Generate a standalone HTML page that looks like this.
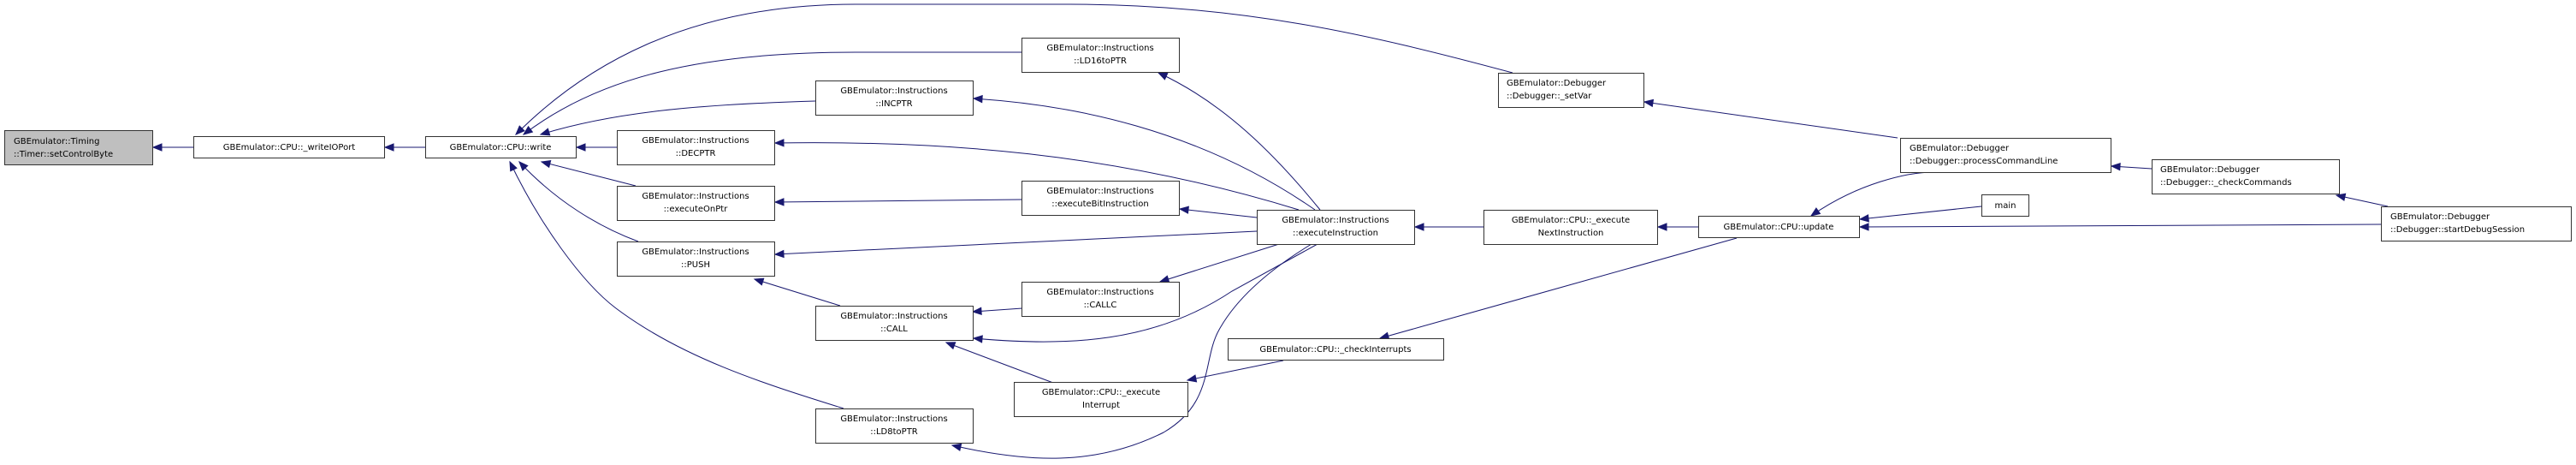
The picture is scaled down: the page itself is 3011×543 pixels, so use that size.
<!DOCTYPE html>
<html><head><meta charset="utf-8"><style>
html,body{margin:0;padding:0;background:#fff;}
svg{display:block;}
text{font-family:"DejaVu Sans","Liberation Sans",sans-serif;font-size:10px;fill:#000;}
.b{fill:#fff;stroke:#333;stroke-width:1;}
.e{fill:none;stroke:#191970;stroke-width:1;}
</style></head><body>
<svg width="3011" height="543" viewBox="0 0 3011 543" xmlns="http://www.w3.org/2000/svg">
<defs>
<marker id="a" markerWidth="11" markerHeight="9" refX="10" refY="4" orient="auto-start-reverse" markerUnits="userSpaceOnUse" overflow="visible">
<path d="M0,0 L10,4 L0,8 Z" fill="#191970" stroke="#191970"/>
</marker>
</defs>
<g class="edges">
<path class="e" marker-start="url(#a)" d="M179,172 L226,172"/>
<path class="e" marker-start="url(#a)" d="M450,172 L497,172"/>
<path class="e" marker-start="url(#a)" d="M674,172 L721,172"/>
<path class="e" marker-start="url(#a)" d="M612,157 C700,90 820,61 1000,61 L1194,61"/>
<path class="e" marker-start="url(#a)" d="M632,157 C720,130 820,122 953,118"/>
<path class="e" marker-start="url(#a)" d="M603,157 C680,80 800,5 1000,5 L1250,5 C1450,5 1600,40 1768,85"/>
<path class="e" marker-start="url(#a)" d="M633,189 L743,217"/>
<path class="e" marker-start="url(#a)" d="M607,189 C650,235 700,265 746,282"/>
<path class="e" marker-start="url(#a)" d="M596,189 C630,260 680,330 720,360 C800,420 900,450 986,477"/>
<path class="e" marker-start="url(#a)" d="M906,236 L1194,233"/>
<path class="e" marker-start="url(#a)" d="M1354,85 C1430,120 1490,180 1543,245"/>
<path class="e" marker-start="url(#a)" d="M1138,115 C1250,122 1400,150 1537,245"/>
<path class="e" marker-start="url(#a)" d="M906,167 C1100,164 1300,178 1518,245"/>
<path class="e" marker-start="url(#a)" d="M1379,244 L1469,254"/>
<path class="e" marker-start="url(#a)" d="M906,297 L1469,270"/>
<path class="e" marker-start="url(#a)" d="M1356,329 L1495,285"/>
<path class="e" marker-start="url(#a)" d="M1138,395 C1250,405 1350,400 1440,340 L1540,285"/>
<path class="e" marker-start="url(#a)" d="M1113,520 C1200,540 1280,545 1360,505 C1420,470 1405,420 1425,385 C1450,340 1500,305 1533,285"/>
<path class="e" marker-start="url(#a)" d="M1137,364 L1195,360"/>
<path class="e" marker-start="url(#a)" d="M882,326 L982,357"/>
<path class="e" marker-start="url(#a)" d="M1106,400 L1231,447"/>
<path class="e" marker-start="url(#a)" d="M1388,444 L1500,421"/>
<path class="e" marker-start="url(#a)" d="M1654,265 L1734,265"/>
<path class="e" marker-start="url(#a)" d="M1938,265 L1985,265"/>
<path class="e" marker-start="url(#a)" d="M1613,395 L2030,278"/>
<path class="e" marker-start="url(#a)" d="M2117,252 C2170,215 2230,200 2264,201"/>
<path class="e" marker-start="url(#a)" d="M2174,256 L2316,241"/>
<path class="e" marker-start="url(#a)" d="M2174,265 L2783,262"/>
<path class="e" marker-start="url(#a)" d="M1922,119 L2218,161"/>
<path class="e" marker-start="url(#a)" d="M2468,194 L2515,197"/>
<path class="e" marker-start="url(#a)" d="M2731,228 L2791,241"/>
</g>
<g class="nodes">
<rect x="5.5" y="152.5" width="173" height="40" fill="#bfbfbf" stroke="#333"/>
<text x="16" y="168">GBEmulator::Timing</text><text x="16" y="183">::Timer::setControlByte</text>

<rect class="b" x="226.5" y="159.5" width="223" height="25"/>
<text x="338" y="175" text-anchor="middle">GBEmulator::CPU::_writeIOPort</text>

<rect class="b" x="497.5" y="159.5" width="176" height="25"/>
<text x="585" y="175" text-anchor="middle">GBEmulator::CPU::write</text>

<rect class="b" x="1194.5" y="44.5" width="184" height="40"/>
<text x="1286" y="59" text-anchor="middle">GBEmulator::Instructions</text><text x="1286" y="74" text-anchor="middle">::LD16toPTR</text>

<rect class="b" x="953.5" y="94.5" width="184" height="40"/>
<text x="1045" y="109" text-anchor="middle">GBEmulator::Instructions</text><text x="1045" y="124" text-anchor="middle">::INCPTR</text>

<rect class="b" x="721.5" y="152.5" width="184" height="40"/>
<text x="813" y="167" text-anchor="middle">GBEmulator::Instructions</text><text x="813" y="182" text-anchor="middle">::DECPTR</text>

<rect class="b" x="721.5" y="217.5" width="184" height="40"/>
<text x="813" y="232" text-anchor="middle">GBEmulator::Instructions</text><text x="813" y="247" text-anchor="middle">::executeOnPtr</text>

<rect class="b" x="721.5" y="282.5" width="184" height="40"/>
<text x="813" y="297" text-anchor="middle">GBEmulator::Instructions</text><text x="813" y="312" text-anchor="middle">::PUSH</text>

<rect class="b" x="953.5" y="357.5" width="184" height="40"/>
<text x="1045" y="372" text-anchor="middle">GBEmulator::Instructions</text><text x="1045" y="387" text-anchor="middle">::CALL</text>

<rect class="b" x="953.5" y="477.5" width="184" height="40"/>
<text x="1045" y="492" text-anchor="middle">GBEmulator::Instructions</text><text x="1045" y="507" text-anchor="middle">::LD8toPTR</text>

<rect class="b" x="1194.5" y="211.5" width="184" height="40"/>
<text x="1286" y="226" text-anchor="middle">GBEmulator::Instructions</text><text x="1286" y="241" text-anchor="middle">::executeBitInstruction</text>

<rect class="b" x="1194.5" y="329.5" width="184" height="40"/>
<text x="1286" y="344" text-anchor="middle">GBEmulator::Instructions</text><text x="1286" y="359" text-anchor="middle">::CALLC</text>

<rect class="b" x="1185.5" y="446.5" width="203" height="40"/>
<text x="1287" y="461" text-anchor="middle">GBEmulator::CPU::_execute</text><text x="1287" y="476" text-anchor="middle">Interrupt</text>

<rect class="b" x="1469.5" y="245.5" width="184" height="40"/>
<text x="1561" y="260" text-anchor="middle">GBEmulator::Instructions</text><text x="1561" y="275" text-anchor="middle">::executeInstruction</text>

<rect class="b" x="1435.5" y="395.5" width="252" height="25"/>
<text x="1561" y="411" text-anchor="middle">GBEmulator::CPU::_checkInterrupts</text>

<rect class="b" x="1751.5" y="85.5" width="170" height="40"/>
<text x="1761" y="100">GBEmulator::Debugger</text><text x="1761" y="115">::Debugger::_setVar</text>

<rect class="b" x="1734.5" y="245.5" width="203" height="40"/>
<text x="1836" y="260" text-anchor="middle">GBEmulator::CPU::_execute</text><text x="1836" y="275" text-anchor="middle">NextInstruction</text>

<rect class="b" x="1985.5" y="252.5" width="188" height="25"/>
<text x="2079" y="268" text-anchor="middle">GBEmulator::CPU::update</text>

<rect class="b" x="2221.5" y="161.5" width="246" height="40"/>
<text x="2232" y="176">GBEmulator::Debugger</text><text x="2232" y="191">::Debugger::processCommandLine</text>

<rect class="b" x="2316.5" y="227.5" width="55" height="25"/>
<text x="2344" y="243" text-anchor="middle">main</text>

<rect class="b" x="2515.5" y="186.5" width="219" height="40"/>
<text x="2525" y="201">GBEmulator::Debugger</text><text x="2525" y="216">::Debugger::_checkCommands</text>

<rect class="b" x="2783.5" y="241.5" width="222" height="40"/>
<text x="2794" y="256">GBEmulator::Debugger</text><text x="2794" y="271">::Debugger::startDebugSession</text>
</g>
</svg>
</body></html>
